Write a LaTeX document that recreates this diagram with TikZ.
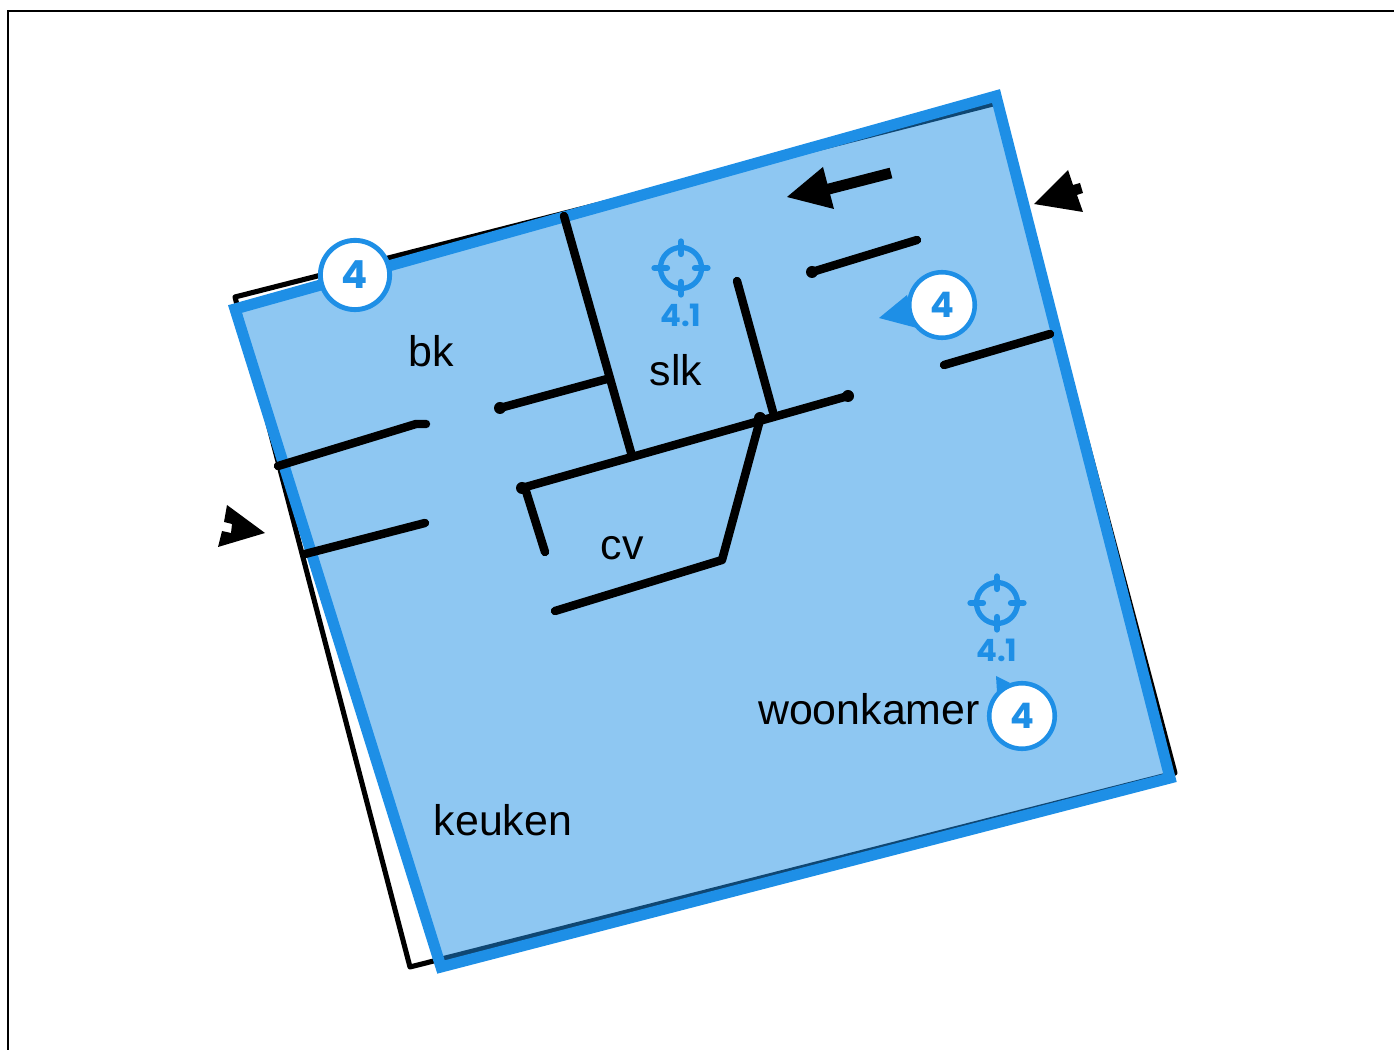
\documentclass[tikz,border=0pt]{standalone}
\usepackage{fontspec}
\setmainfont{Liberation Sans}
\newfontfamily\badgefont{Poppins}
\definecolor{planblue}{HTML}{1E8FE6}
\tikzset{
  wall/.style={line width=4.8pt,line cap=round,line join=round},
  room/.style={font=\fontsize{24.4pt}{26pt}\selectfont,inner sep=0pt},
  badge/.style={circle,draw=planblue,fill=white,line width=2.6pt,minimum size=37.3pt,inner sep=0pt,
    text=planblue,font=\badgefont\bfseries\fontsize{20pt}{22pt}\selectfont},
  bigbadge/.style={badge,line width=2.8pt,minimum size=39.4pt,font=\badgefont\bfseries\fontsize{22pt}{24pt}\selectfont},
  marktext/.style={text=planblue,inner sep=0pt,font=\badgefont\bfseries\fontsize{17.5pt}{19pt}\selectfont}
}
\newcommand{\targetmark}[3]{
  \draw[planblue,line width=3pt] (#1,#2) circle (23-2.5);
  \foreach \ang in {0,90,180,270}
    \draw[planblue,line width=3.6pt,line cap=round] (#1,#2) ++(\ang:14) -- ++(\ang:12.5);
  \node[marktext] (#3) at (#1,#2+47) {4.1};
}
\begin{document}
\begin{tikzpicture}[x=0.02cm,y=-0.02cm]
  \useasboundingbox (0,0) rectangle (1394,1050);
  % frame
  \draw[line width=1.6pt] (8,1050)--(8,11)--(1394,11);
  % old outline
  \draw[line width=2.9pt,line join=round] (235,297)--(997,103)--(1175,773)--(410,967)--cycle;
  % new outline
  \fill[planblue,fill opacity=0.5] (235,309)--(996,96)--(1170,778)--(441,967)--cycle;
  \draw[planblue,line width=6.3pt,line join=miter] (235,309)--(996,96)--(1170,778)--(441,967)--cycle;
  % walls
  \draw[wall] (278,466)--(416,424)--(426,424);
  \draw[wall] (305,554)--(425,523);
  \draw[wall] (500,408)--(607,379);
  \draw[wall] (564,216)--(632,456);
  \draw[wall] (522,488)--(848,396);
  \draw[wall] (525,488)--(545,552);
  \draw[wall] (737,281)--(773,412);
  \draw[wall] (760,420)--(722,560)--(555,611);
  \draw[wall] (812,272)--(917,240);
  \draw[wall] (944,365)--(1050,334);
  \foreach \x/\y in {500/408,522/488,848/396,812/272,760/418}
    \fill (\x,\y) circle (6);
  % arrows
  \draw[line width=6.2pt] (891,173)--(825,190);
  \fill (787,197)--(823,167)--(834,209)--cycle;
  \fill (1034,204)--(1068,170)--(1073,185)--(1080,183)--(1083,193)--(1077,195)--(1083,212)--cycle;
  \fill (265,533)--(227,505)--(224,522)--(232,524)--(231,533)--(222,531)--(218,547)--cycle;
  % rooms
  \node[room] (bk) at (431,351.5) {bk};
  \node[room] (slk) at (676,370) {slk};
  \node[room] (cv) at (622,548) {cv};
  \node[room] (woonkamer) at (869,709) {woonkamer};
  \node[room] (keuken) at (503,820) {keuken};
  % marks
  \targetmark{681}{268}{markslk}
  \targetmark{997}{603}{markwoon}
  % badges
  \fill[planblue] (879,318)--(907,295)--(917,328)--cycle;
  \fill[planblue] (996,676)--(997,692)--(1010,683)--cycle;
  \node[bigbadge] (badgetop) at (355,275) {4};
  \node[badge] (badgemid) at (942,305) {4};
  \node[badge] (badgelow) at (1022,716) {4};
\end{tikzpicture}
\end{document}
